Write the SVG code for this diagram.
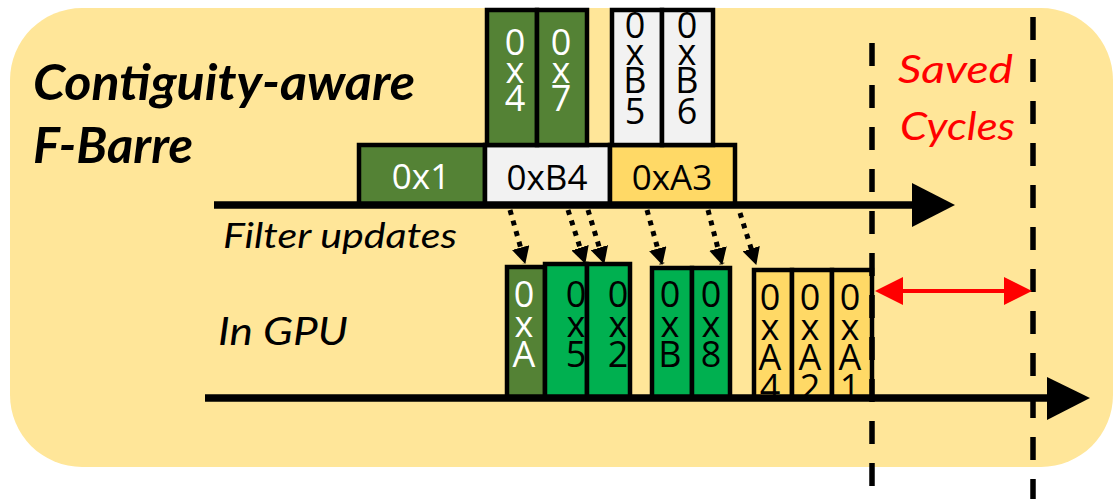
<svg xmlns="http://www.w3.org/2000/svg" width="1114" height="499" viewBox="0 0 1114 499">
  <style>
    .title { font-family: Lato, "Liberation Sans", sans-serif; font-weight: bold; font-style: italic; font-size: 49px; fill: #000; }
    .label { font-family: Lato, "Liberation Sans", sans-serif; font-style: italic; fill: #000; }
    .red { fill: #FF0000; }
    .box { stroke: #000; stroke-width: 4.5; }
    .dkgreen { fill: #548235; }
    .green { fill: #00B050; }
    .grey { fill: #F2F2F2; }
    .gold { fill: #FFD966; }
    .hex { font-family: "Open Sans", "Noto Sans", sans-serif; font-size: 36px; text-anchor: middle; fill: #000; }
    .hex.wide { font-size: 35px; }
    .hex.w { fill: #FFFFFF; }
    .timeline { stroke: #000; stroke-width: 7.5; fill: none; }
    .dotted { stroke: #000; stroke-width: 5; stroke-dasharray: 5 6; fill: none; }
    .dash { stroke: #000; stroke-width: 5.5; stroke-dasharray: 23 19; fill: none; }
  </style>
  <defs>
    <marker id="head" viewBox="0 0 17 18" refX="16" refY="9" markerWidth="17" markerHeight="18" markerUnits="userSpaceOnUse" orient="auto">
      <path d="M0,0 L17,9 L0,18 Z" fill="#000"/>
    </marker>
  </defs>

  <!-- panel background -->
  <rect x="10" y="8" width="1103" height="459" rx="72" ry="72" fill="#FFE699"/>

  <!-- headings -->
  <text class="title" x="33" y="100" textLength="382" lengthAdjust="spacingAndGlyphs">Contiguity-aware</text>
  <text class="title" x="33" y="163" textLength="160" lengthAdjust="spacingAndGlyphs">F-Barre</text>
  <text class="label" x="223" y="248" font-size="35" textLength="234" lengthAdjust="spacingAndGlyphs">Filter updates</text>
  <text class="label" x="218" y="345" font-size="39" textLength="130" lengthAdjust="spacingAndGlyphs">In GPU</text>
  <text class="label red" x="898" y="83" font-size="39" textLength="115" lengthAdjust="spacingAndGlyphs">Saved</text>
  <text class="label red" x="900" y="140" font-size="39" textLength="115" lengthAdjust="spacingAndGlyphs">Cycles</text>

  <!-- filter update blocks -->
  <g id="u-0x1">
    <rect class="box dkgreen" x="359" y="145" width="126" height="60"/>
    <text class="hex wide w" x="421" y="189">0x1</text>
  </g>
  <g id="u-0xB4">
    <rect class="box grey" x="485" y="145" width="125" height="60"/>
    <text class="hex wide" x="547" y="190">0xB4</text>
  </g>
  <g id="u-0xA3">
    <rect class="box gold" x="610" y="145" width="125" height="60"/>
    <text class="hex wide" x="672" y="190">0xA3</text>
  </g>
  <g id="u-0x4">
    <rect class="box dkgreen" x="487" y="10" width="50" height="135"/>
    <text class="hex w"><tspan x="515" y="55">0</tspan><tspan x="515" y="83">x</tspan><tspan x="515" y="111">4</tspan></text>
  </g>
  <g id="u-0x7">
    <rect class="box dkgreen" x="537" y="10" width="50" height="135"/>
    <text class="hex w"><tspan x="561" y="55">0</tspan><tspan x="561" y="83">x</tspan><tspan x="561" y="111">7</tspan></text>
  </g>
  <g id="u-0xB5">
    <rect class="box grey" x="612" y="10" width="50" height="135"/>
    <text class="hex"><tspan x="635" y="38">0</tspan><tspan x="635" y="65">x</tspan><tspan x="635" y="93">B</tspan><tspan x="635" y="124">5</tspan></text>
  </g>
  <g id="u-0xB6">
    <rect class="box grey" x="662" y="10" width="51" height="135"/>
    <text class="hex"><tspan x="687" y="38">0</tspan><tspan x="687" y="65">x</tspan><tspan x="687" y="93">B</tspan><tspan x="687" y="124">6</tspan></text>
  </g>

  <!-- GPU blocks -->
  <g id="g-0xA">
    <rect class="box dkgreen" x="507" y="267" width="38" height="131"/>
    <text class="hex w"><tspan x="524" y="307">0</tspan><tspan x="524" y="337">x</tspan><tspan x="524" y="367">A</tspan></text>
  </g>
  <g id="g-0x5">
    <rect class="box green" x="545" y="264" width="42" height="134"/>
    <text class="hex"><tspan x="576" y="307">0</tspan><tspan x="576" y="337">x</tspan><tspan x="576" y="367">5</tspan></text>
  </g>
  <g id="g-0x2">
    <rect class="box green" x="587" y="264" width="43" height="134"/>
    <text class="hex"><tspan x="618" y="307">0</tspan><tspan x="618" y="337">x</tspan><tspan x="618" y="367">2</tspan></text>
  </g>
  <g id="g-0xB">
    <rect class="box green" x="652" y="268" width="40" height="130"/>
    <text class="hex"><tspan x="670" y="307">0</tspan><tspan x="670" y="337">x</tspan><tspan x="670" y="367">B</tspan></text>
  </g>
  <g id="g-0x8">
    <rect class="box green" x="692" y="268" width="38" height="130"/>
    <text class="hex"><tspan x="711" y="307">0</tspan><tspan x="711" y="337">x</tspan><tspan x="711" y="367">8</tspan></text>
  </g>
  <g id="g-0xA4">
    <rect class="box gold" x="754" y="270" width="38" height="128"/>
    <text class="hex"><tspan x="770" y="310">0</tspan><tspan x="770" y="340">x</tspan><tspan x="770" y="370">A</tspan><tspan x="770" y="400">4</tspan></text>
  </g>
  <g id="g-0xA2">
    <rect class="box gold" x="792" y="270" width="40" height="128"/>
    <text class="hex"><tspan x="810" y="310">0</tspan><tspan x="810" y="340">x</tspan><tspan x="810" y="370">A</tspan><tspan x="810" y="400">2</tspan></text>
  </g>
  <g id="g-0xA1">
    <rect class="box gold" x="832" y="270" width="40" height="128"/>
    <text class="hex"><tspan x="850" y="310">0</tspan><tspan x="850" y="340">x</tspan><tspan x="850" y="370">A</tspan><tspan x="850" y="400">1</tspan></text>
  </g>

  <!-- connectors -->
  <g id="connectors">
    <!-- time axes -->
    <line class="timeline" x1="214" y1="205" x2="914" y2="205"/>
    <polygon points="912,183 955,205 912,227" fill="#000"/>
    <line class="timeline" x1="205" y1="398" x2="1049" y2="398"/>
    <polygon points="1047,377 1090,398 1047,420" fill="#000"/>

    <!-- update to GPU transfers -->
    <path class="dotted" d="M510,210 L525,263" marker-end="url(#head)"/>
    <path class="dotted" d="M568,210 L585,263" marker-end="url(#head)"/>
    <path class="dotted" d="M588,210 L604,263" marker-end="url(#head)"/>
    <path class="dotted" d="M647,210 L662,264" marker-end="url(#head)"/>
    <path class="dotted" d="M708,210 L722,264" marker-end="url(#head)"/>
    <path class="dotted" d="M740,213 L756,264" marker-end="url(#head)"/>

    <!-- completion markers -->
    <line class="dash" x1="872" y1="43" x2="872" y2="487"/>
    <line class="dash" x1="1033" y1="0" x2="1033" y2="499" stroke-dashoffset="-17"/>

    <!-- saved cycles span -->
    <line x1="900" y1="291" x2="1008" y2="291" stroke="#FF0000" stroke-width="4"/>
    <polygon points="875,291 903,277 903,305" fill="#FF0000"/>
    <polygon points="1032,291 1004,277 1004,305" fill="#FF0000"/>
  </g>
</svg>
